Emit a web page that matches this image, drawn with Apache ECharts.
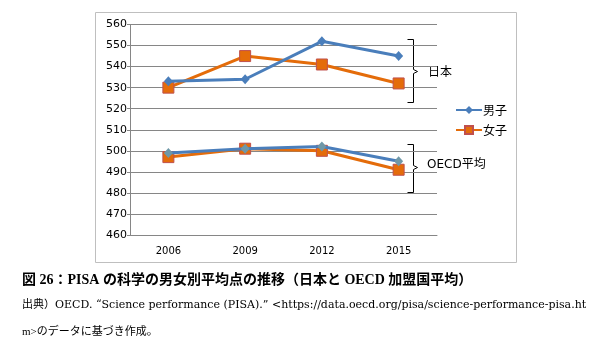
<!DOCTYPE html>
<html>
<head>
<meta charset="utf-8">
<script src="https://cdn.jsdelivr.net/npm/echarts@6/dist/echarts.min.js"></script>
<style>
  html, body { margin: 0; padding: 0; background: #fff; }
  #pisa-chart { width: 599px; height: 350px; }
</style>
</head>
<body>
<div id="pisa-chart"></div>
<script>
// 年度
var years = ['2006', '2009', '2012', '2015'];
// 日本
var japanBoys = [533, 534, 552, 545];
var japanGirls = [530, 545, 541, 532];
// OECD平均
var oecdBoys = [499, 501, 502, 495];
var oecdGirls = [497, 501, 500, 491];

var blue = '#4a7ebb';
var orange = '#e46c0a';
var serif = '"Liberation Serif", "Noto Sans CJK JP", serif';

var chart = echarts.init(document.getElementById('pisa-chart'));

function boysSeries(data, markerColor) {
  return {
    name: '男子',
    type: 'line',
    data: data,
    symbol: 'diamond',
    symbolSize: [9, 10],
    lineStyle: { color: blue, width: 3 },
    itemStyle: { color: markerColor },
    z: 3
  };
}
function girlsSeries(data) {
  return {
    name: '女子',
    type: 'line',
    data: data,
    symbol: 'rect',
    symbolSize: 11,
    lineStyle: { color: orange, width: 3 },
    itemStyle: { color: orange, borderColor: '#c0504d', borderWidth: 1 },
    z: 2
  };
}

// 括弧 (右向き)
function bracket(x, top, mid, bottom) {
  return {
    type: 'polyline',
    shape: { points: [[x - 6, top], [x, top], [x, mid - 2], [x + 4, mid], [x, mid + 2], [x, bottom], [x - 6, bottom]] },
    style: { stroke: '#000', lineWidth: 1, fill: null }
  };
}

var option = {
  animation: false,
  color: [blue, orange],
  grid: { left: 130, top: 24.5, right: 162, bottom: 115 },
  legend: {
    data: ['男子', '女子'],
    orient: 'vertical',
    left: 455,
    top: 104,
    padding: 0,
    itemWidth: 26,
    itemHeight: 10,
    itemGap: 8,
    textStyle: { fontFamily: '"Noto Sans CJK JP", sans-serif', fontSize: 12, color: '#000', padding: [0, 0, 0, -4] }
  },
  xAxis: {
    type: 'category',
    data: years,
    boundaryGap: true,
    axisLine: { lineStyle: { color: '#868686' } },
    axisTick: { length: 4, lineStyle: { color: '#868686' } },
    axisLabel: { color: '#000', fontFamily: '"DejaVu Sans", sans-serif', fontSize: 10, margin: 11 }
  },
  yAxis: {
    type: 'value',
    min: 460,
    max: 560,
    interval: 10,
    axisLine: { show: true, lineStyle: { color: '#868686' } },
    axisTick: { show: true, length: 3, lineStyle: { color: '#868686' } },
    splitLine: { lineStyle: { color: '#868686' } },
    axisLabel: { color: '#000', fontFamily: '"DejaVu Sans", sans-serif', fontSize: 11, margin: 3 }
  },
  series: [
    boysSeries(japanBoys, blue),
    girlsSeries(japanGirls),
    boysSeries(oecdBoys, '#6f98a8'),
    girlsSeries(oecdGirls)
  ],
  graphic: [
    {
      type: 'rect',
      shape: { x: 95.5, y: 12.5, width: 421, height: 250 },
      style: { stroke: '#bfbfbf', lineWidth: 1, fill: null },
      silent: true
    },
    bracket(413.5, 39.5, 71.5, 102.5),
    bracket(413.5, 144.5, 167.5, 192.5),
    {
      type: 'text', left: 428, top: 65,
      style: { text: '日本', fill: '#000', font: '12px "Noto Sans CJK JP", sans-serif' }
    },
    {
      type: 'text', left: 427, top: 159,
      style: { text: 'OECD平均', fill: '#000', font: '12px "DejaVu Sans", "Noto Sans CJK JP", sans-serif' }
    },
    {
      type: 'text', left: 22, top: 273,
      style: { text: '図 26：PISA の科学の男女別平均点の推移（日本と OECD 加盟国平均）', fill: '#000', font: 'bold 14px ' + serif }
    },
    {
      type: 'text', left: 22, top: 300,
      style: { text: '出典）OECD. “Science performance (PISA).” <https://data.oecd.org/pisa/science-performance-pisa.ht', fill: '#000', font: '11px "DejaVu Serif", "Noto Sans CJK JP", serif' }
    },
    {
      type: 'text', left: 22, top: 327,
      style: { text: 'm>のデータに基づき作成。', fill: '#000', font: '11px ' + serif }
    }
  ]
};

chart.setOption(option);
window.onresize = chart.resize;
</script>
</body>
</html>
